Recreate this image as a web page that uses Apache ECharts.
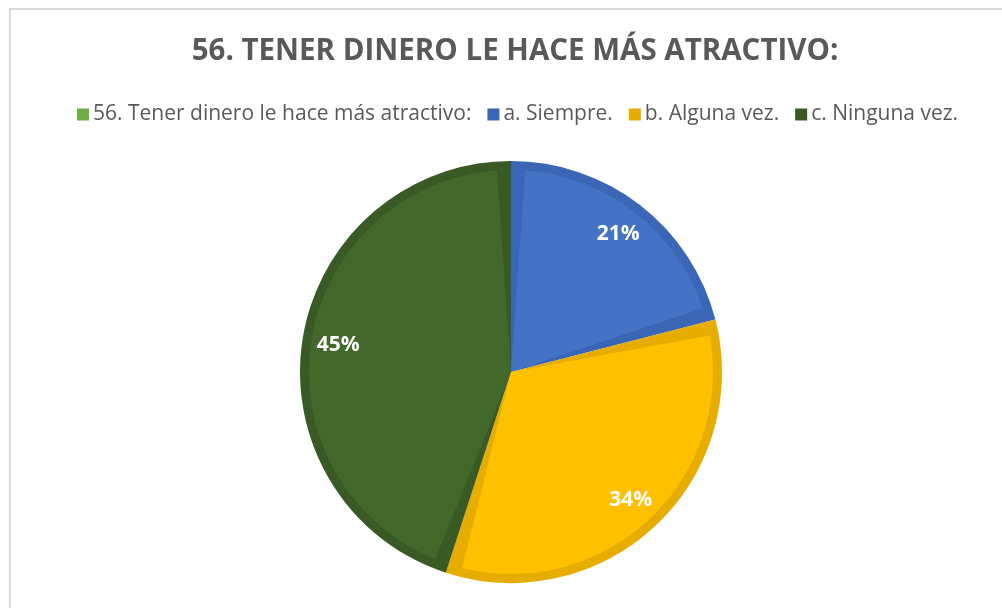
<!DOCTYPE html>
<html>
<head>
<meta charset="utf-8">
<script src="https://cdn.jsdelivr.net/npm/echarts@6/dist/echarts.min.js"></script>
<style>
  html, body { margin: 0; padding: 0; background: #fff; }
  .frame {
    position: absolute; left: 9px; top: 8px; width: 1100px; height: 700px;
    border: 2px solid #d9d9d9; box-sizing: border-box;
  }
  #chart { position: absolute; left: 0; top: 0; width: 1002px; height: 608px; }
</style>
</head>
<body>
<div class="frame"></div>
<div id="chart"></div>
<script>
const titleText = '56. TENER DINERO LE HACE MÁS ATRACTIVO:'
const categories = ['56. Tener dinero le hace más atractivo:', 'a. Siempre.', 'b. Alguna vez.', 'c. Ninguna vez.']
const values = [0, 21, 34, 45]
const fillColors = ['#70AD47', '#4472C4', '#FFC000', '#43682B']
const edgeColors = ['#70AD47', '#3B66B5', '#E6AD00', '#3A5A25']

const chart = echarts.init(document.getElementById('chart'), null, { renderer: 'canvas' })

const center = [511, 372]

// dark full slices (act as the inner border band)
const edgeData = categories.map((name, i) => ({
  name,
  value: values[i],
  itemStyle: { color: edgeColors[i] }
}))

// lighter fill on top, a bit smaller, with small gaps between slices
const fillData = categories
  .map((name, i) => ({ name, value: values[i], itemStyle: { color: fillColors[i] } }))
  .filter(d => d.value > 0)

const labelData = categories
  .map((name, i) => ({ name, value: values[i] }))
  .filter(d => d.value > 0)

const option = {
  backgroundColor: 'transparent',
  title: {
    text: titleText,
    left: 510,
    top: 32,
    textAlign: 'center',
    textStyle: {
      fontFamily: 'Open Sans',
      fontSize: 29.5,
      fontWeight: 'bold',
      color: '#595959'
    }
  },
  legend: {
    data: categories,
    top: 99,
    left: 72,
    itemWidth: 12,
    itemHeight: 12,
    itemGap: 16,
    icon: 'rect',
    textStyle: {
      fontFamily: 'Open Sans',
      fontSize: 21,
      color: '#595959',
      padding: [0, 0, 0, -1]
    }
  },
  series: [
    {
      type: 'pie',
      center: center,
      radius: [0, 211],
      startAngle: 90,
      clockwise: true,
      silent: true,
      label: { show: false },
      labelLine: { show: false },
      data: edgeData
    },
    {
      type: 'pie',
      center: center,
      radius: [0, 202],
      startAngle: 90,
      clockwise: true,
      silent: true,
      padAngle: 8,
      label: { show: false },
      labelLine: { show: false },
      data: fillData
    },
    {
      type: 'pie',
      center: center,
      radius: [135, 209],
      startAngle: 90,
      clockwise: true,
      silent: true,
      itemStyle: { color: 'rgba(0,0,0,0)' },
      label: {
        show: true,
        position: 'inside',
        formatter: '{d}%',
        fontFamily: 'Open Sans',
        fontSize: 21,
        fontWeight: 'bold',
        color: '#ffffff'
      },
      labelLine: { show: false },
      data: labelData
    }
  ]
}

chart.setOption(option)
</script>
</body>
</html>
